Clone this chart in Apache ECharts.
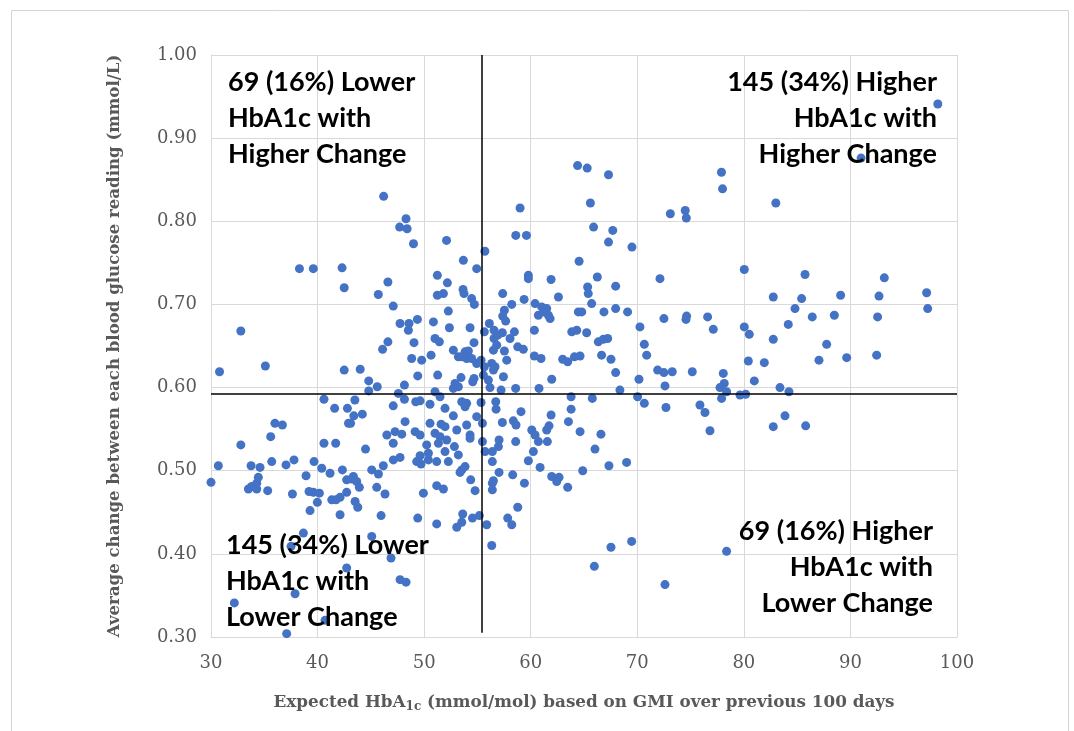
<!DOCTYPE html>
<html><head><meta charset="utf-8">
<script src="https://cdn.jsdelivr.net/npm/echarts@6/dist/echarts.min.js"></script>
<style>html,body{margin:0;padding:0;background:#fff}#c{width:1074px;height:731px}</style>
</head><body><div id="c"></div>
<script>
// ---- data ----
const xTickValues = [30, 40, 50, 60, 70, 80, 90, 100];
const yTickValues = [0.30, 0.40, 0.50, 0.60, 0.70, 0.80, 0.90, 1.00];
const crossX = 55.4;      // vertical divider (HbA1c)
const crossY = 0.592;     // horizontal divider (change)
const crossYLow = 0.305;  // lower end of vertical divider

const pointsUpper = [[46.2,0.830],[64.4,0.867],[65.3,0.864],[59.0,0.816],[48.3,0.803],[47.7,0.793],[48.4,0.791],[49.0,0.773],[52.1,0.777],[58.6,0.783],[59.6,0.783],[55.7,0.764],[67.3,0.856],[65.6,0.822],[65.9,0.793],[67.7,0.789],[67.3,0.775],[69.5,0.769],[73.1,0.809],[74.5,0.813],[74.6,0.804],[77.9,0.859],[78.0,0.839],[83.0,0.822],[98.2,0.941],[91.0,0.876]];

const pointsLeftMid = [[38.3,0.743],[39.6,0.743],[42.3,0.744],[42.5,0.720],[46.6,0.727],[45.7,0.712],[47.1,0.698],[32.8,0.668],[46.6,0.655],[46.1,0.646],[35.1,0.626],[30.8,0.619],[42.5,0.621],[44.0,0.622],[44.8,0.608],[45.6,0.601],[44.8,0.596],[40.6,0.586],[41.6,0.575],[42.8,0.575],[43.5,0.585],[43.4,0.566],[44.2,0.568],[42.9,0.557],[43.1,0.557],[36.0,0.557],[36.7,0.555],[35.6,0.541],[32.8,0.531],[40.6,0.533],[41.7,0.533],[46.5,0.543],[47.1,0.533],[44.5,0.526],[47.1,0.578]];

const pointsCentre = [[53.68,0.753],[54.93,0.743],[51.24,0.735],[52.18,0.726],[59.78,0.735],[59.78,0.731],[61.91,0.730],[64.54,0.752],[53.65,0.718],[53.74,0.713],[51.24,0.711],[51.81,0.713],[54.46,0.707],[54.71,0.700],[57.37,0.713],[58.22,0.700],[59.38,0.706],[60.41,0.701],[61.03,0.697],[61.50,0.695],[61.66,0.687],[60.72,0.687],[61.25,0.691],[61.82,0.683],[62.60,0.709],[52.27,0.692],[57.53,0.693],[57.37,0.686],[57.65,0.680],[47.74,0.677],[48.58,0.677],[49.37,0.682],[48.52,0.669],[50.87,0.679],[52.37,0.672],[54.31,0.672],[56.12,0.677],[55.65,0.667],[56.56,0.669],[56.90,0.663],[57.34,0.666],[58.47,0.667],[60.34,0.669],[58.06,0.659],[64.47,0.691],[64.79,0.691],[64.32,0.669],[63.85,0.667],[49.05,0.654],[51.02,0.659],[51.43,0.655],[54.68,0.654],[56.56,0.659],[56.81,0.651],[56.50,0.645],[57.53,0.644],[58.78,0.649],[59.31,0.646],[52.74,0.645],[53.21,0.637],[53.84,0.643],[54.15,0.644],[53.53,0.637],[53.99,0.635],[54.46,0.635],[54.93,0.629],[57.75,0.633],[60.34,0.638],[60.97,0.635],[63.00,0.634],[63.47,0.631],[64.10,0.637],[64.63,0.638],[48.83,0.635],[49.77,0.633],[50.65,0.639],[55.34,0.633],[55.65,0.625],[56.34,0.629],[56.65,0.625],[56.50,0.621],[55.56,0.615],[56.03,0.609],[49.40,0.614],[51.27,0.615],[48.15,0.603],[53.46,0.612],[52.90,0.605],[53.21,0.601],[52.74,0.599],[54.56,0.607],[54.68,0.611],[57.44,0.613],[61.97,0.610],[60.78,0.599],[58.59,0.599],[57.22,0.597],[56.18,0.600],[47.58,0.593],[51.02,0.595],[51.49,0.589],[63.79,0.589],[48.15,0.586],[49.21,0.583],[49.62,0.584],[50.55,0.580],[51.96,0.575],[53.53,0.583],[53.99,0.581],[53.84,0.577],[55.34,0.582],[56.72,0.583],[56.75,0.574],[59.09,0.571],[54.93,0.565],[48.21,0.559],[50.55,0.557],[52.74,0.566],[51.59,0.556],[51.96,0.553],[53.06,0.549],[53.99,0.555],[54.31,0.543],[55.47,0.557],[57.34,0.558],[58.37,0.560],[58.62,0.555],[60.10,0.549],[60.41,0.543],[61.91,0.567],[61.72,0.554],[61.50,0.549],[63.54,0.559],[63.79,0.574],[64.63,0.547],[47.27,0.547],[47.90,0.544],[49.15,0.547],[49.62,0.543],[51.02,0.545],[51.49,0.541],[50.24,0.531],[51.34,0.533],[52.12,0.537],[54.31,0.539],[55.47,0.535],[57.03,0.537],[56.97,0.529],[58.59,0.535],[60.72,0.535],[61.56,0.535],[52.84,0.529]];

const pointsRightMid = [[66.25,0.733],[65.34,0.721],[65.40,0.713],[65.72,0.701],[67.97,0.722],[72.13,0.731],[80.04,0.742],[66.87,0.691],[67.97,0.695],[69.09,0.691],[70.25,0.673],[72.50,0.683],[74.63,0.686],[74.57,0.682],[76.60,0.685],[77.13,0.670],[80.04,0.673],[80.51,0.664],[82.76,0.709],[82.76,0.658],[65.25,0.666],[66.34,0.655],[66.81,0.658],[67.22,0.659],[70.66,0.652],[70.88,0.639],[66.65,0.639],[67.53,0.634],[67.97,0.618],[71.91,0.621],[72.50,0.618],[73.28,0.619],[75.16,0.619],[78.07,0.617],[80.42,0.632],[81.92,0.630],[80.98,0.608],[70.16,0.610],[72.60,0.602],[68.37,0.597],[78.16,0.605],[77.76,0.600],[78.38,0.595],[77.91,0.587],[79.64,0.591],[80.17,0.592],[65.78,0.587],[70.03,0.589],[70.66,0.581],[72.69,0.576],[75.88,0.579],[76.35,0.570],[76.82,0.548],[82.76,0.553],[66.59,0.544],[66.03,0.526],
[85.74,0.736],[93.18,0.732],[85.42,0.707],[89.08,0.711],[92.68,0.710],[97.15,0.714],[97.25,0.695],[84.80,0.695],[86.42,0.685],[88.49,0.687],[92.55,0.685],[84.17,0.676],[87.77,0.652],[87.05,0.633],[89.65,0.636],[92.46,0.639],[83.39,0.600],[84.23,0.595],[83.86,0.566],[85.80,0.554]];

const pointsLowLeft = [[30.69,0.506],[33.76,0.506],[34.60,0.504],[35.70,0.511],[37.04,0.507],[37.79,0.513],[39.67,0.511],[40.39,0.503],[42.33,0.501],[41.17,0.497],[38.92,0.494],[34.44,0.492],[34.29,0.485],[33.82,0.481],[33.51,0.478],[34.29,0.478],[35.32,0.476],[30.0,0.486],[37.64,0.472],[39.20,0.475],[39.61,0.474],[40.17,0.473],[39.98,0.462],[39.29,0.452],[41.33,0.465],[41.73,0.465],[42.11,0.468],[42.73,0.474],[42.73,0.489],[43.20,0.490],[43.36,0.493],[43.67,0.487],[43.92,0.480],[43.52,0.463],[43.77,0.456],[42.11,0.447],[45.55,0.480],[46.33,0.472],[45.96,0.446],[45.08,0.501],[45.71,0.496],[46.17,0.506],[47.11,0.513],[38.67,0.425],[37.51,0.409],[45.08,0.421],[46.89,0.395],[42.73,0.383],[37.89,0.352],[32.19,0.341],[40.70,0.320],[37.10,0.304]];

const pointsLowCentre = [[47.74,0.516],[49.62,0.518],[50.40,0.521],[49.30,0.511],[49.71,0.508],[50.40,0.513],[51.18,0.511],[52.27,0.511],[51.96,0.523],[53.21,0.519],[55.72,0.523],[56.40,0.523],[56.40,0.511],[53.84,0.505],[53.53,0.501],[53.37,0.498],[54.37,0.489],[54.78,0.476],[57.03,0.498],[56.50,0.488],[56.40,0.485],[56.40,0.477],[58.31,0.495],[59.41,0.485],[59.78,0.512],[60.25,0.523],[60.88,0.504],[61.97,0.493],[62.66,0.492],[62.44,0.487],[63.47,0.480],[64.88,0.500],[49.93,0.473],[51.18,0.482],[51.81,0.478],[49.40,0.443],[51.18,0.436],[53.06,0.432],[53.53,0.438],[53.62,0.448],[54.53,0.443],[55.18,0.446],[55.87,0.435],[56.34,0.410],[57.84,0.443],[58.22,0.435],[58.78,0.456],[47.74,0.369],[48.30,0.366],
[67.34,0.506],[69.00,0.510],[67.53,0.408],[69.47,0.415],[65.97,0.385],[72.60,0.363],[78.38,0.403]];

const quadrantLabels = {
  tl: '69 (16%) Lower\nHbA1c with\nHigher Change',
  tr: '145 (34%) Higher\nHbA1c with\nHigher Change',
  bl: '145 (34%) Lower\nHbA1c with\nLower Change',
  br: '69 (16%) Higher\nHbA1c with\nLower Change'
};
const xTitle = 'Expected HbA{sub|1c} (mmol/mol) based on GMI over previous 100 days';
const yTitle = 'Average change between each blood glucose reading (mmol/L)';

// ---- chart ----
const allPoints = [].concat(pointsUpper, pointsLeftMid, pointsCentre, pointsRightMid, pointsLowLeft, pointsLowCentre);
const serifFont = 'DejaVu Serif';
const grey = '#595959';
const gridGrey = '#d9d9d9';
const quadFont = 'bold 27px Lato';

const chart = echarts.init(document.getElementById('c'), null, {renderer: 'canvas'});
chart.setOption({
  backgroundColor: '#fff',
  animation: false,
  grid: {left: 211, right: 117, top: 55, bottom: 94, containLabel: false},
  xAxis: {
    type: 'value', min: xTickValues[0], max: xTickValues[xTickValues.length-1], interval: 10,
    axisLine: {show: true, lineStyle: {color: gridGrey, width: 1}},
    axisTick: {show: false},
    splitLine: {show: true, lineStyle: {color: gridGrey, width: 1}},
    axisLabel: {fontFamily: serifFont, fontSize: 18, color: grey, margin: 17},
    name: xTitle, nameLocation: 'middle', nameGap: 55,
    nameTextStyle: {fontFamily: serifFont, fontSize: 16.8, fontWeight: 'bold', color: grey,
      rich: {sub: {fontFamily: serifFont, fontSize: 12, fontWeight: 'bold', color: grey, padding: [9, 0, 0, 0]}}}
  },
  yAxis: {
    type: 'value', min: yTickValues[0], max: yTickValues[yTickValues.length-1], interval: 0.1,
    axisLine: {show: true, lineStyle: {color: gridGrey, width: 1}},
    axisTick: {show: false},
    splitLine: {show: true, lineStyle: {color: gridGrey, width: 1}},
    axisLabel: {fontFamily: serifFont, fontSize: 18, color: grey, margin: 14, formatter: v => v.toFixed(2)},
    name: yTitle, nameLocation: 'middle', nameGap: 88, nameRotate: 90,
    nameTextStyle: {fontFamily: serifFont, fontSize: 16.6, fontWeight: 'bold', color: grey}
  },
  series: [{
    type: 'scatter', data: allPoints, symbol: 'circle', symbolSize: 9,
    itemStyle: {color: '#4472C4', opacity: 1},
    silent: true,
    markLine: {
      silent: true, symbol: 'none', animation: false,
      label: {show: false},
      lineStyle: {color: '#000', width: 1.5, type: 'solid'},
      data: [
        [{coord: [crossX, crossYLow]}, {coord: [crossX, yTickValues[yTickValues.length-1]]}],
        [{coord: [xTickValues[0], crossY]}, {coord: [xTickValues[xTickValues.length-1], crossY]}]
      ]
    }
  }],
  graphic: [
    {type: 'rect', left: 9, top: 8, z: -10, shape: {width: 1057, height: 740}, style: {fill: 'none', stroke: '#d4d4d4', lineWidth: 1}},
    {type: 'text', left: 228, top: 64, z: 100, style: {text: quadrantLabels.tl, font: quadFont, fill: '#000', lineHeight: 36, textAlign: 'left'}},
    {type: 'text', right: 1074 - 937, top: 64, z: 100, style: {text: quadrantLabels.tr, font: quadFont, fill: '#000', lineHeight: 36, textAlign: 'right'}},
    {type: 'text', left: 226, top: 527, z: 100, style: {text: quadrantLabels.bl, font: quadFont, fill: '#000', lineHeight: 36, textAlign: 'left'}},
    {type: 'text', right: 1074 - 933, top: 513, z: 100, style: {text: quadrantLabels.br, font: quadFont, fill: '#000', lineHeight: 36, textAlign: 'right'}}
  ]
});
</script>
</body></html>
